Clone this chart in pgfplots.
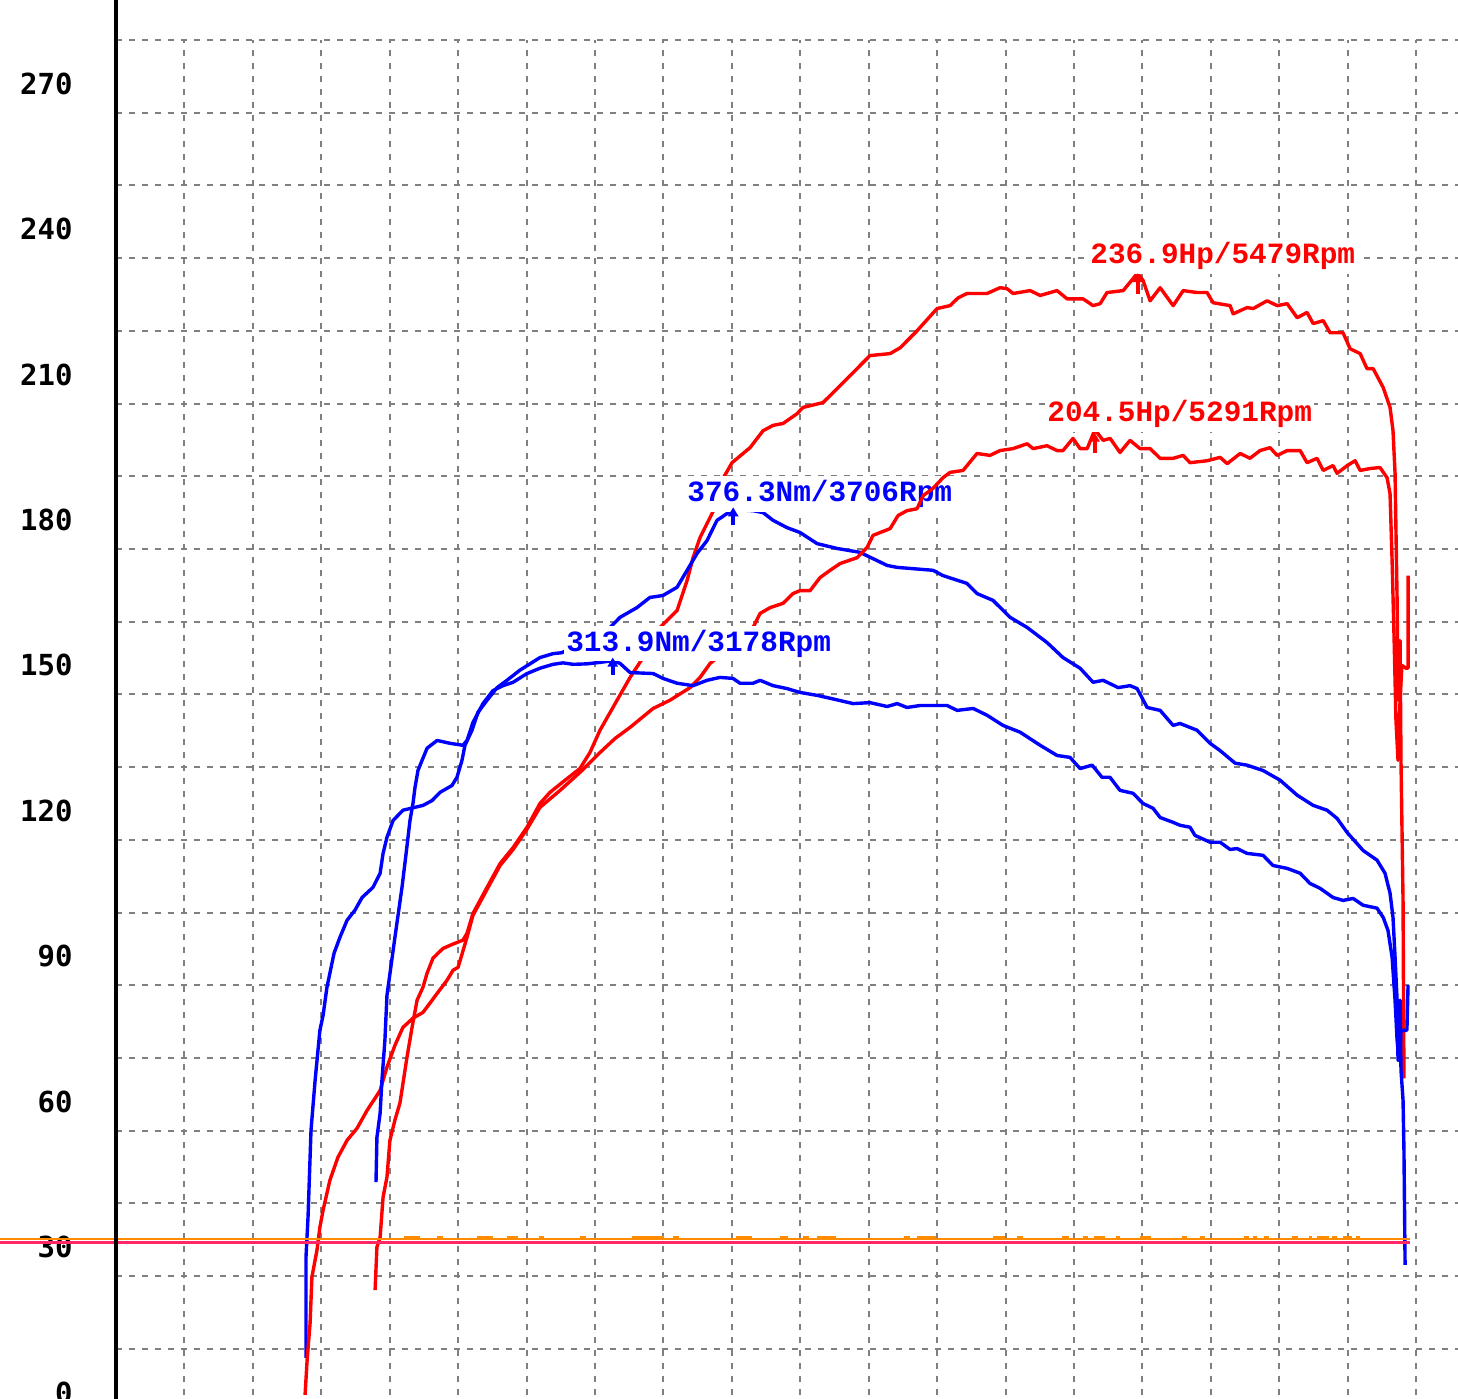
\documentclass[border=0pt]{standalone}
\usepackage{fontspec}
\usepackage{pgfplots}
\pgfplotsset{compat=1.18}
\usetikzlibrary{arrows.meta}
\newfontfamily\tickfont{DejaVu Sans Mono}
\newfontfamily\labfont{Liberation Mono}
\definecolor{gridgray}{RGB}{128,128,128}
\definecolor{hpred}{RGB}{255,0,0}
\definecolor{tqblue}{RGB}{0,0,255}
\definecolor{refpink}{RGB}{255,40,100}
\definecolor{reforange}{RGB}{255,140,0}
\tikzset{peaklab/.style={anchor=base west, inner xsep=1pt, inner ysep=2pt, fill=white, font=\labfont\bfseries\fontsize{14.7}{17}\selectfont}}
\begin{document}
\begin{tikzpicture}
\begin{axis}[
  scale only axis, width=671pt, height=690.75pt,
  xmin=1000, xmax=6884, ymin=0, ymax=285,
  clip=false,
  axis line style={draw=none},
  tick style={draw=none},
  xtick={1000,1300,...,6700}, xticklabels={},
  ytick={0,30,...,270}, minor ytick={15,45,...,285},
  grid=both,
  major grid style={gridgray, line width=1pt, dash pattern=on 3pt off 3.5pt},
  minor grid style={gridgray, line width=1pt, dash pattern=on 3pt off 3.5pt},
  /pgf/number format/assume math mode=true,
  yticklabel style={font=\tickfont\bfseries\fontsize{14.5}{16}\selectfont, anchor=east, inner sep=0pt, xshift=-21.5pt, yshift=14.5pt},
  every axis plot/.append style={line width=1.7pt, line join=round},
]
% ---- run 1 : power (red) ----
\addplot[hpred] coordinates {(2136,27.1)(2144,36.0)(2158,38.0)(2171,46.3)(2188,50.4)(2201,58.0)(2223,62.2)(2245,65.7)(2276,75.2)(2298,81.3)(2320,86.9)(2346,89.6)(2364,92.5)(2390,95.6)(2434,97.6)(2478,98.5)(2521,99.3)(2539,100.7)(2565,104.8)(2627,110.2)(2684,115.1)(2741,118.4)(2802,122.6)(2859,127.5)(2903,129.8)(2969,132.3)(3034,134.7)(3078,138.0)(3122,142.6)(3197,148.8)(3254,153.5)(3311,157.6)(3385,163.8)(3460,167.3)(3504,173.5)(3530,178.2)(3561,182.4)(3626,188.5)(3661,194.5)(3701,197.8)(3780,200.9)(3837,204.4)(3881,205.5)(3925,205.9)(3986,207.9)(4012,209.2)(4100,210.2)(4175,213.7)(4249,217.2)(4306,219.9)(4394,220.3)(4438,221.5)(4512,225.0)(4600,229.6)(4657,230.2)(4692,231.8)(4731,232.7)(4819,232.7)(4876,233.9)(4907,233.7)(4933,232.7)(5008,233.3)(5052,232.3)(5126,233.3)(5170,231.6)(5240,231.6)(5284,230.2)(5315,230.6)(5345,232.9)(5416,233.3)(5479,236.9)(5503,235.4)(5534,231.2)(5578,233.9)(5635,230.2)(5679,233.3)(5740,232.9)(5784,232.9)(5810,230.8)(5885,230.2)(5898,228.5)(5959,229.8)(5986,229.6)(6047,231.2)(6091,230.2)(6135,230.6)(6179,227.7)(6222,228.8)(6249,226.5)(6293,227.1)(6323,224.6)(6380,224.6)(6411,221.3)(6455,220.3)(6485,217.2)(6512,217.2)(6556,213.3)(6586,209.2)(6599,204.4)(6608,195.6)(6612,183.8)(6617,169.4)(6621,148.8)(6630,161.1)(6634,136.4)(6643,107.5)(6647,70.8)};
% ---- run 1 : torque (blue, Nm/2) ----
\addplot[tqblue] coordinates {(1833,13.1)(1833,33.9)(1842,42.2)(1855,60.1)(1873,70.4)(1894,80.7)(1908,83.8)(1925,89.6)(1956,96.6)(1982,99.9)(2013,103.4)(2048,105.5)(2079,108.1)(2127,110.2)(2158,113.1)(2171,117.2)(2188,120.5)(2215,124.0)(2258,126.1)(2346,127.1)(2386,128.1)(2421,129.8)(2473,131.2)(2495,132.9)(2517,136.4)(2530,139.5)(2561,142.6)(2587,146.3)(2627,148.8)(2671,151.4)(2714,152.9)(2771,155.0)(2859,157.6)(2916,158.4)(2955,158.6)(3056,161.1)(3166,163.8)(3210,165.9)(3284,167.9)(3341,170.0)(3398,170.4)(3460,172.1)(3504,175.6)(3548,179.1)(3591,181.7)(3635,185.9)(3679,187.3)(3706,188.15)(3793,187.9)(3837,187.5)(3881,185.9)(3942,184.4)(3999,183.4)(4074,181.1)(4162,180.1)(4262,179.3)(4381,176.6)(4425,176.2)(4582,175.6)(4626,174.5)(4731,172.9)(4775,170.8)(4845,169.4)(4920,165.9)(4995,163.8)(5082,160.7)(5152,157.6)(5227,155.4)(5284,152.5)(5328,152.9)(5394,151.4)(5446,151.8)(5477,151.2)(5521,147.3)(5578,146.7)(5635,143.6)(5665,144.0)(5740,142.6)(5797,139.9)(5841,138.4)(5907,135.8)(5959,135.4)(6029,134.3)(6104,132.3)(6179,129.2)(6249,127.1)(6310,126.1)(6354,124.4)(6398,121.5)(6468,117.8)(6529,115.8)(6564,113.1)(6586,109.0)(6599,104.0)(6608,95.8)(6617,86.9)(6621,74.5)(6630,86.9)(6634,72.5)(6643,66.3)(6647,56.0)(6652,32.3)};
\node[peaklab, text=hpred] at (axis cs:5262,238.9) {236.9Hp/5479Rpm};
\node[peaklab, text=tqblue] at (axis cs:3495,189.8) {376.3Nm/3706Rpm};
\addplot[hpred, line width=2pt, -{Triangle[length=4.5pt,width=5pt]}] coordinates {(5479,232.6)(5479,236.9)};
\addplot[tqblue, line width=2pt, -{Triangle[length=4.5pt,width=5pt]}] coordinates {(3706,185.0)(3706,188.6)};
% ---- run 2 : power (red) ----
\addplot[hpred] coordinates {(1829,5.5)(1838,12.7)(1851,20.3)(1859,29.8)(1881,35.3)(1894,40.1)(1908,43.6)(1938,49.8)(1973,54.5)(2013,58.0)(2057,60.5)(2101,64.2)(2136,66.7)(2158,68.3)(2188,73.1)(2223,77.6)(2258,81.3)(2302,83.2)(2346,84.4)(2408,88.3)(2451,91.0)(2478,93.1)(2500,93.7)(2539,99.9)(2565,104.4)(2627,109.8)(2684,114.7)(2741,118.0)(2802,122.2)(2859,126.7)(2947,130.2)(3034,133.9)(3122,138.0)(3188,140.9)(3254,143.2)(3355,147.1)(3429,148.8)(3517,151.4)(3561,153.5)(3605,156.4)(3648,158.0)(3723,161.1)(3793,163.8)(3824,166.7)(3868,167.9)(3925,168.8)(3968,170.8)(3999,171.4)(4043,171.4)(4087,174.1)(4131,175.6)(4175,177.0)(4249,178.2)(4293,180.3)(4319,182.8)(4394,184.2)(4429,186.9)(4468,187.9)(4512,188.3)(4539,191.0)(4582,192.5)(4626,194.7)(4657,195.8)(4714,196.2)(4775,199.7)(4832,199.3)(4876,200.3)(4933,200.7)(4995,201.7)(5021,200.7)(5082,201.3)(5126,200.3)(5152,200.3)(5196,202.8)(5227,200.7)(5258,200.7)(5291,204.5)(5302,204.0)(5328,202.4)(5359,202.8)(5402,199.9)(5446,202.4)(5490,200.7)(5534,200.7)(5578,198.7)(5635,198.7)(5679,199.3)(5709,197.8)(5784,198.2)(5841,198.9)(5872,197.6)(5929,199.7)(5972,198.7)(6016,200.3)(6060,200.9)(6091,199.3)(6135,200.3)(6192,200.3)(6222,197.8)(6266,198.7)(6293,196.2)(6336,197.2)(6354,195.6)(6398,197.2)(6433,198.2)(6455,196.2)(6499,196.6)(6542,196.8)(6573,194.7)(6586,191.4)(6595,177.6)(6604,161.1)(6612,144.6)(6621,136.4)(6630,148.8)(6638,156.0)(6656,155.4)(6665,155.4)(6665,174.5)};
% ---- run 2 : torque (blue, Nm/2) ----
\addplot[tqblue] coordinates {(2140,49.4)(2144,58.6)(2158,63.6)(2166,70.4)(2179,78.6)(2188,87.9)(2223,99.9)(2254,110.2)(2272,117.2)(2289,124.0)(2302,127.5)(2311,130.8)(2324,134.3)(2342,136.4)(2364,138.9)(2408,140.5)(2465,139.9)(2521,139.5)(2539,140.5)(2565,144.2)(2609,148.1)(2653,150.8)(2697,151.8)(2741,152.5)(2802,154.3)(2859,155.4)(2916,156.2)(2960,156.5)(3004,156.2)(3065,156.3)(3122,156.6)(3178,156.95)(3210,156.4)(3254,154.5)(3355,154.3)(3398,153.3)(3460,152.3)(3530,151.8)(3591,152.9)(3648,153.5)(3705,153.3)(3736,152.3)(3793,152.3)(3824,152.9)(3881,151.8)(3942,151.2)(3999,150.4)(4074,149.8)(4131,149.2)(4232,148.1)(4306,148.3)(4381,147.5)(4425,148.1)(4468,147.3)(4525,147.7)(4644,147.7)(4688,146.7)(4758,147.1)(4819,145.7)(4889,143.6)(4964,142.2)(5052,139.5)(5126,137.4)(5183,137.0)(5227,134.7)(5280,135.4)(5323,132.9)(5358,132.9)(5402,130.2)(5459,129.6)(5503,127.5)(5547,126.5)(5578,124.6)(5635,123.6)(5665,123.0)(5709,122.6)(5731,120.9)(5797,119.5)(5841,119.5)(5885,118.0)(5915,118.2)(5959,117.2)(6029,116.8)(6073,114.7)(6135,114.1)(6192,113.1)(6235,111.0)(6279,110.0)(6336,108.1)(6380,107.5)(6424,107.9)(6468,106.5)(6529,105.9)(6556,104.0)(6577,101.3)(6595,95.8)(6608,86.9)(6617,78.6)(6625,74.5)(6634,80.7)(6647,80.7)(6660,80.7)(6665,90.0)};
\node[peaklab, text=hpred] at (axis cs:5073,206.2) {204.5Hp/5291Rpm};
\node[peaklab, text=tqblue] at (axis cs:2964,158.9) {313.9Nm/3178Rpm};
\addplot[hpred, line width=2pt, -{Triangle[length=4.5pt,width=5pt]}] coordinates {(5291,199.8)(5291,204.0)};
\addplot[tqblue, line width=2pt, -{Triangle[length=4.5pt,width=5pt]}] coordinates {(3178,154.0)(3178,157.6)};
% ---- reference lines ----
\addplot[refpink, line width=1.5pt] coordinates {(485,37.0)(6674,37.0)};
\addplot[reforange, line width=1pt] coordinates {(485,37.65)(6674,37.65)};
\addplot[reforange, line width=1pt, line cap=butt, unbounded coords=jump] coordinates {(2263,38.0)(2333,38.0)(2333,nan)(2408,38.0)(2434,38.0)(2434,nan)(2583,38.0)(2653,38.0)(2653,nan)(2714,38.0)(2763,38.0)(2763,nan)(2855,38.0)(2877,38.0)(2877,nan)(3034,38.0)(3061,38.0)(3061,nan)(3263,38.0)(3403,38.0)(3403,nan)(3442,38.0)(3469,38.0)(3469,nan)(3718,38.0)(3789,38.0)(3789,nan)(3911,38.0)(3946,38.0)(3946,nan)(4012,38.0)(4039,38.0)(4039,nan)(4074,38.0)(4157,38.0)(4157,nan)(4455,38.0)(4481,38.0)(4481,nan)(4512,38.0)(4595,38.0)(4595,nan)(4845,38.0)(4898,38.0)(4898,nan)(4951,38.0)(4977,38.0)(4977,nan)(5148,38.0)(5179,38.0)(5179,nan)(5240,38.0)(5262,38.0)(5262,nan)(5288,38.0)(5336,38.0)(5336,nan)(5385,38.0)(5402,38.0)(5402,nan)(5490,38.0)(5538,38.0)(5538,nan)(5674,38.0)(5696,38.0)(5696,nan)(5753,38.0)(5775,38.0)(5775,nan)(5946,38.0)(5968,38.0)(5968,nan)(5985,38.0)(6002,38.0)(6002,nan)(6033,38.0)(6055,38.0)(6055,nan)(6156,38.0)(6183,38.0)(6183,nan)(6230,38.0)(6244,38.0)(6244,nan)(6266,38.0)(6318,38.0)(6318,nan)(6332,38.0)(6354,38.0)(6354,nan)(6380,38.0)(6419,38.0)(6419,nan)(6437,38.0)(6455,38.0)};
% ---- vertical axis line ----
\addplot[black, line width=1.75pt, line cap=butt] coordinates {(1000,0)(1000,293.2)};
\end{axis}
\pgfresetboundingbox
\useasboundingbox (-58pt,11.25pt) rectangle (671pt,710.75pt);
\end{tikzpicture}
\end{document}
